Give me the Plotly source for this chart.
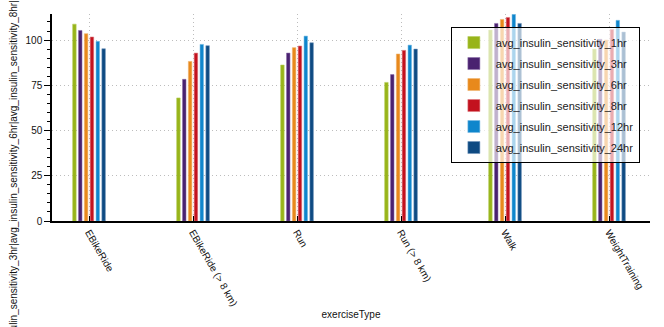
import plotly.graph_objects as go

categories = ["EBikeRide", "EBikeRide (> 8 km)", "Run", "Run (> 8 km)", "Walk", "WeightTraining"]

series_names = [
    "avg_insulin_sensitivity_1hr",
    "avg_insulin_sensitivity_3hr",
    "avg_insulin_sensitivity_6hr",
    "avg_insulin_sensitivity_8hr",
    "avg_insulin_sensitivity_12hr",
    "avg_insulin_sensitivity_24hr",
]

v_1hr = [108.8, 68.0, 86.2, 76.6, 105.5, 95.0]
v_3hr = [105.3, 78.3, 92.8, 80.9, 109.2, 100.4]
v_6hr = [103.5, 88.2, 95.8, 92.3, 111.4, 100.0]
v_8hr = [101.7, 92.8, 96.7, 94.3, 112.5, 105.9]
v_12hr = [99.3, 97.6, 102.2, 97.2, 114.2, 110.9]
v_24hr = [95.2, 96.9, 98.5, 95.0, 109.2, 104.4]

series_values = [v_1hr, v_3hr, v_6hr, v_8hr, v_12hr, v_24hr]

colors = ["#98b41a", "#4a2270", "#e8891c", "#c3121e", "#0f86cc", "#0e4a82"]
edge_colors = ["rgba(180,205,90,0.55)", "rgba(140,110,170,0.55)", "rgba(240,180,110,0.55)",
               "rgba(220,120,125,0.55)", "rgba(120,185,225,0.55)", "rgba(110,145,185,0.55)"]

fig = go.Figure()
for name, vals, c, ec in zip(series_names, series_values, colors, edge_colors):
    fig.add_trace(go.Bar(
        x=categories, y=vals, name=name, legendgroup=name,
        marker=dict(color=c, line=dict(color=ec, width=1)),
    ))

font_family = "Liberation Sans, DejaVu Sans, sans-serif"
grid_dash = "1px,3px"

fig.update_layout(
    width=664, height=327,
    margin=dict(l=52, r=14, t=14, b=106),
    plot_bgcolor="white", paper_bgcolor="white",
    barmode="group", bargap=0.663, bargroupgap=0.4,
    font=dict(family=font_family, size=10, color="#222222"),
    showlegend=True,
    legend=dict(
        x=0.667, y=0.937, xanchor="left", yanchor="top",
        bgcolor="rgba(255,255,255,0.65)", bordercolor="black", borderwidth=1,
        font=dict(family=font_family, size=11, color="#222222"),
        tracegroupgap=2, itemwidth=34,
    ),
    xaxis=dict(
        type="category", range=[-0.356, 5.394], automargin=False,
        showline=True, linecolor="black", linewidth=1.5,
        ticks="inside", ticklen=5, tickcolor="black",
        tickangle=60, tickfont=dict(family=font_family, size=10, color="#111111"),
        showgrid=True, gridcolor="#bdbdbd", griddash=grid_dash, gridwidth=1,
        title=dict(text="exerciseType", font=dict(family=font_family, size=10, color="#111111"), standoff=4),
        zeroline=False,
    ),
    yaxis=dict(
        range=[0, 114.4], automargin=False,
        tickvals=[0, 25, 50, 75, 100],
        showline=True, linecolor="black", linewidth=1.5,
        ticks="outside", ticklen=6, tickcolor="black",
        minor=dict(ticks="outside", ticklen=3, dtick=5, tickcolor="black", showgrid=False),
        tickfont=dict(family=font_family, size=10, color="#111111"),
        showgrid=True, gridcolor="#bdbdbd", griddash=grid_dash, gridwidth=1,
        zeroline=False,
        title=dict(text="|".join(series_names), font=dict(family=font_family, size=10, color="#111111"), standoff=6),
    ),
)

fig.write_html("out.html")
